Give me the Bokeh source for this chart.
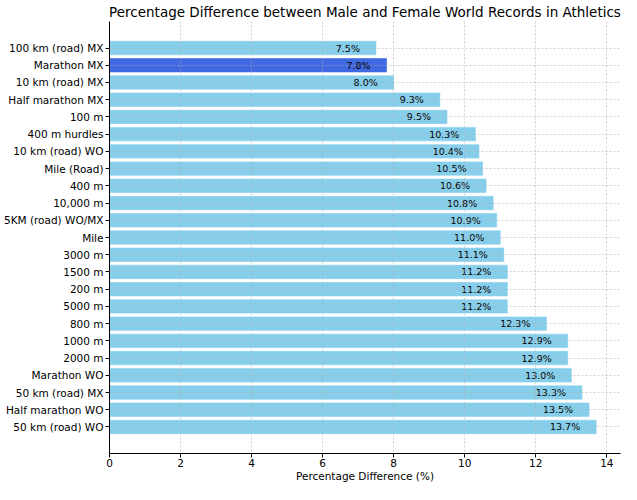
from bokeh.plotting import figure
from bokeh.models import ColumnDataSource, Range1d, FixedTicker, LabelSet
from bokeh.core.properties import value
from bokeh.embed import file_html
from bokeh.resources import INLINE

events = ["100 km (road) MX", "Marathon MX", "10 km (road) MX", "Half marathon MX", "100 m",
          "400 m hurdles", "10 km (road) WO", "Mile (Road)", "400 m", "10,000 m",
          "5KM (road) WO/MX", "Mile", "3000 m", "1500 m", "200 m", "5000 m", "800 m",
          "1000 m", "2000 m", "Marathon WO", "50 km (road) MX", "Half marathon WO",
          "50 km (road) WO"]
diffs = [7.5, 7.8, 8.0, 9.3, 9.5, 10.3, 10.4, 10.5, 10.6, 10.8, 10.9, 11.0, 11.1,
         11.2, 11.2, 11.2, 12.3, 12.9, 12.9, 13.0, 13.3, 13.5, 13.7]
highlight = "Marathon MX"
x_ticks = [0, 2, 4, 6, 8, 10, 12, 14]

ypos = list(range(len(events)))
colors = ["#4169E1" if e == highlight else "#87CEEB" for e in events]
labels = [f"{d:.1f}%" for d in diffs]
label_x = [d - 0.45 for d in diffs]

src = ColumnDataSource(dict(y=ypos, x=diffs, color=colors, label=labels, lx=label_x))

n = len(events)
p = figure(width=621, height=484, output_backend="svg", toolbar_location=None,
           x_range=Range1d(0, max(diffs) * 1.05),
           y_range=Range1d(n - 1 + 1.54, -1.54),
           min_border_left=101, min_border_right=1, min_border_top=0, min_border_bottom=0)
p.border_fill_color = "white"

p.title.text = "Percentage Difference between Male and Female World Records in Athletics"
p.title.align = "center"
p.title.text_font = "DejaVu Sans"
p.title.text_font_size = "13.5px"
p.title.text_font_style = "normal"
p.title.text_color = "#000000"
p.title.standoff = 3
p.title.offset = 0

p.hbar(y="y", right="x", left=0, height=0.78, color="color", line_color="color",
       line_alpha=0.6, source=src)

p.add_layout(LabelSet(x="lx", y="y", text="label", source=src, text_align="right",
                      text_baseline="middle", text_font_size=value("9.5px"),
                      text_font=value("DejaVu Sans"), text_color=value("#000000")))

p.outline_line_color = None
p.background_fill_color = "white"

p.xaxis.ticker = FixedTicker(ticks=x_ticks)
p.yaxis.ticker = FixedTicker(ticks=ypos)
p.yaxis.major_label_overrides = {i: e for i, e in zip(ypos, events)}
p.xaxis.axis_label = "Percentage Difference (%)"

for ax in (p.xaxis[0], p.yaxis[0]):
    ax.major_label_text_font = "DejaVu Sans"
    ax.major_label_text_font_size = "10.5px"
    ax.major_label_text_color = "#000000"
    ax.axis_line_color = "#000000"
    ax.axis_line_width = 1
    ax.major_tick_line_color = "#000000"
    ax.major_tick_out = 4
    ax.major_tick_in = 0
    ax.minor_tick_line_color = None
    ax.major_label_standoff = 2

p.xaxis.major_label_standoff = 1
p.xaxis.axis_label_text_font = "DejaVu Sans"
p.xaxis.axis_label_text_font_size = "10.5px"
p.xaxis.axis_label_text_font_style = "normal"
p.xaxis.axis_label_text_color = "#000000"
p.xaxis.axis_label_standoff = 0

for g in (p.xgrid[0], p.ygrid[0]):
    g.grid_line_color = "#b0b0b0"
    g.grid_line_alpha = 0.7
    g.grid_line_dash = "2 2"
    g.grid_line_width = 0.8
    g.level = "overlay"

p.ygrid.ticker = FixedTicker(ticks=ypos)
p.xgrid.ticker = FixedTicker(ticks=x_ticks)

open("out.html", "w").write(file_html(p, INLINE))
